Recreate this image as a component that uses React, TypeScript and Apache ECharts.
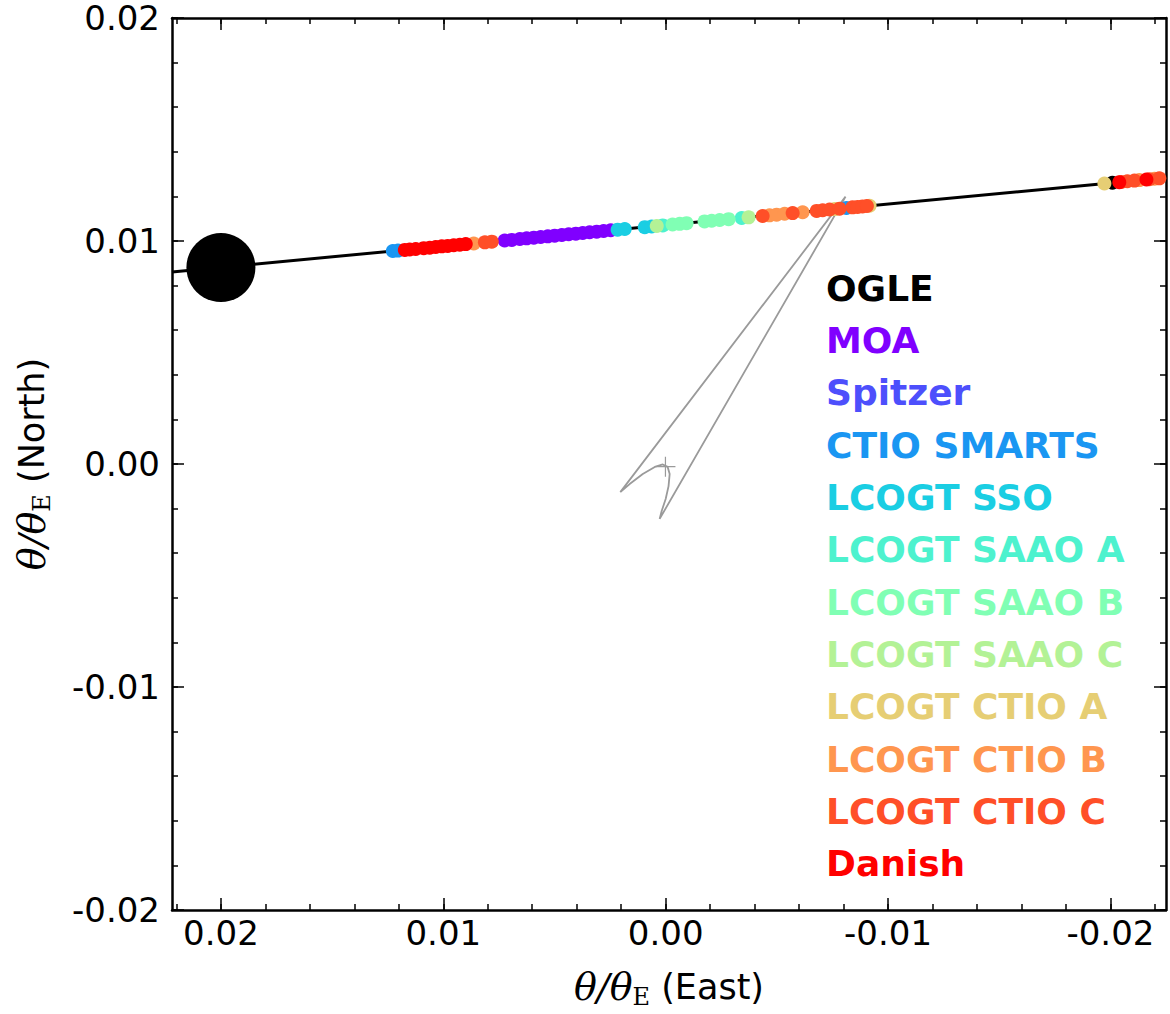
import React, { useEffect, useRef } from "react";
import * as echarts from "echarts";

// ---- data ----
const seriesNames = [
  "OGLE", "MOA", "Spitzer", "CTIO SMARTS", "LCOGT SSO", "LCOGT SAAO A",
  "LCOGT SAAO B", "LCOGT SAAO C", "LCOGT CTIO A", "LCOGT CTIO B", "LCOGT CTIO C", "Danish",
];
const seriesColors = [
  "#000000", "#8000ff", "#4d4ffc", "#1a96f2", "#1acee3", "#4df2ce",
  "#80ffb4", "#b3f296", "#e6ce74", "#ff964f", "#ff4f28", "#ff0000",
];

const ogle = [[-0.02009, 0.01261]];
const moa = [
  [0.00724, 0.01002], [0.00692, 0.01005], [0.00656, 0.01009], [0.00625, 0.01012],
  [0.00593, 0.01015], [0.00562, 0.01018], [0.0053, 0.01021], [0.00499, 0.01024],
  [0.00467, 0.01027], [0.00436, 0.0103], [0.00404, 0.01033], [0.00373, 0.01036],
  [0.00342, 0.01039], [0.0031, 0.01042], [0.00279, 0.01045], [0.00247, 0.01048],
];
const spitzer: number[][] = [];
const ctioSmarts = [[0.01227, 0.00955], [0.01204, 0.00957], [-0.00813, 0.01148]];
const lcogtSso = [[0.00216, 0.01051], [0.00184, 0.01054], [0.00094, 0.01062], [0.00063, 0.01065]];
const lcogtSaaoA = [[0.00013, 0.0107], [-0.00342, 0.01103]];
const lcogtSaaoB = [
  [-0.00031, 0.01074], [-0.00063, 0.01077], [-0.00094, 0.0108], [-0.00175, 0.01088],
  [-0.00207, 0.01091], [-0.00243, 0.01094], [-0.00283, 0.01098],
];
const lcogtSaaoC = [[0.0004, 0.01067], [-0.00373, 0.01106]];
const lcogtCtioA = [[-0.0076, 0.01143], [-0.00917, 0.01158], [-0.01973, 0.01258]];
const lcogtCtioB = [
  [0.00863, 0.00989], [-0.00467, 0.01115], [-0.00499, 0.01118], [-0.00535, 0.01122],
  [-0.00616, 0.01129], [-0.0213, 0.01273], [-0.02198, 0.01279],
];
const lcogtCtioC = [
  [0.00813, 0.00994], [0.00782, 0.00997], [-0.00436, 0.01112], [-0.00571, 0.01125],
  [-0.00679, 0.01135], [-0.00706, 0.01138], [-0.00737, 0.01141], [-0.00782, 0.01145],
  [-0.0084, 0.01151], [-0.00863, 0.01153], [-0.00885, 0.01155], [-0.00905, 0.01157],
  [-0.02049, 0.01265], [-0.02076, 0.01268], [-0.02108, 0.01271], [-0.02175, 0.01277],
  [-0.0222, 0.01281],
];
const danish = [
  [0.01173, 0.0096], [0.01151, 0.00962], [0.01124, 0.00964], [0.01088, 0.00968],
  [0.01061, 0.0097], [0.01034, 0.00973], [0.01007, 0.00976], [0.0098, 0.00978],
  [0.00953, 0.00981], [0.00926, 0.00983], [0.00899, 0.00986],
  [-0.0204, 0.01264], [-0.02162, 0.01276],
];
const seriesData = [
  ogle, moa, spitzer, ctioSmarts, lcogtSso, lcogtSaaoA,
  lcogtSaaoB, lcogtSaaoC, lcogtCtioA, lcogtCtioB, lcogtCtioC, danish,
];

const trajectory = [[0.0222, 0.00861], [-0.0225, 0.01284]];
const sourcePosition = [[0.02, 0.00881]];
const caustic = [
  [-0.00809, 0.01199], [0.00204, -0.00126], [0.00162, -0.0009], [0.00103, -0.00045],
  [0.00049, -0.00013], [0.00013, -0.00002], [-0.00009, -0.00013], [-0.00018, -0.00045],
  [-0.00013, -0.00099], [0.0, -0.00157], [0.00018, -0.00211], [0.00027, -0.00246],
  [-0.00809, 0.01199],
];
const lensPosition = [[0.00001, -0.00012]];

const majorTicks = [-0.02, -0.01, 0, 0.01, 0.02];
const minorTicksX = [
  -0.022, -0.02, -0.018, -0.016, -0.014, -0.012, -0.01, -0.008, -0.006, -0.004, -0.002,
  0, 0.002, 0.004, 0.006, 0.008, 0.01, 0.012, 0.014, 0.016, 0.018, 0.02, 0.022,
];
const minorTicksY = [
  -0.02, -0.018, -0.016, -0.014, -0.012, -0.01, -0.008, -0.006, -0.004, -0.002,
  0, 0.002, 0.004, 0.006, 0.008, 0.01, 0.012, 0.014, 0.016, 0.018, 0.02,
];

const FONT = '"DejaVu Sans", sans-serif';
const SERIF = '"DejaVu Serif", serif';

const nameRich = {
  m: { fontFamily: SERIF, fontStyle: "italic", fontSize: 38, lineHeight: 44, color: "#000", verticalAlign: "middle" },
  s: { fontFamily: SERIF, fontSize: 24, lineHeight: 24, color: "#000", verticalAlign: "bottom" },
  t: { fontFamily: FONT, fontSize: 35, lineHeight: 44, color: "#000", verticalAlign: "middle" },
};

function makeAxis(kind: "x" | "y", position: string, major: boolean, withLabels: boolean, extra: any = {}) {
  const range = kind === "x" ? { min: -0.0225, max: 0.0222, inverse: true } : { min: -0.02, max: 0.02 };
  const ticks = major ? majorTicks : kind === "x" ? minorTicksX : minorTicksY;
  const label: any = {
    show: true,
    customValues: majorTicks,
    formatter: (v: number) => v.toFixed(2),
    fontSize: 34,
    fontFamily: FONT,
    color: "#000",
    margin: kind === "x" ? 6 : 12,
  };
  if (kind === "y") label.lineHeight = 34;
  return {
    type: "value",
    position,
    ...range,
    splitLine: { show: false },
    axisLine: { show: major, onZero: false, lineStyle: { color: "#000", width: 2.5 } },
    axisTick: {
      show: true,
      inside: true,
      length: major ? 12 : 6,
      customValues: ticks,
      lineStyle: { color: "#000", width: 1.5 },
    },
    axisLabel: withLabels ? label : { show: false },
    ...extra,
  };
}

export default function App() {
  const ref = useRef<HTMLDivElement>(null);
  useEffect(() => {
    if (!ref.current) return;
    const chart = echarts.init(ref.current, null, { renderer: "svg" });

    const legendTexts = seriesNames.map((name, i) => ({
      type: "text",
      x: 826,
      y: 288 + i * 52.36,
      z: 100,
      style: {
        text: name,
        fill: seriesColors[i],
        fontSize: 36,
        fontWeight: "bold",
        fontFamily: FONT,
        verticalAlign: "middle",
        align: "left",
      },
    }));

    const scatterSeries = seriesNames.map((name, i) => ({
      type: "scatter",
      name,
      data: seriesData[i],
      symbol: "circle",
      symbolSize: 14,
      itemStyle: { color: seriesColors[i], opacity: 1 },
      z: 5,
      silent: true,
    }));

    chart.setOption({
      animation: false,
      backgroundColor: "#fff",
      grid: { left: 172, right: 4, top: 18, bottom: 104, outerBoundsMode: "none", containLabel: false },
      xAxis: [
        makeAxis("x", "bottom", true, true, {
          name: "{m|θ/θ}{s|E}{t| (East)}",
          nameLocation: "middle",
          nameGap: 55,
          nameTextStyle: { rich: nameRich },
        }),
        makeAxis("x", "bottom", false, false),
        makeAxis("x", "top", true, false),
        makeAxis("x", "top", false, false),
      ],
      yAxis: [
        makeAxis("y", "left", true, true, {
          name: "{m|θ/θ}{s|E}{t| (North)}",
          nameLocation: "middle",
          nameRotate: 90,
          nameGap: 118,
          nameTextStyle: { rich: nameRich },
        }),
        makeAxis("y", "left", false, false),
        makeAxis("y", "right", true, false),
        makeAxis("y", "right", false, false),
      ],
      series: [
        {
          type: "line",
          data: trajectory,
          symbol: "none",
          lineStyle: { color: "#000", width: 3 },
          z: 2,
          silent: true,
        },
        {
          type: "scatter",
          data: sourcePosition,
          symbol: "circle",
          symbolSize: 69,
          itemStyle: { color: "#000", opacity: 1 },
          z: 3,
          silent: true,
        },
        {
          type: "line",
          data: caustic,
          symbol: "none",
          lineStyle: { color: "#9a9a9a", width: 1.8 },
          z: 4,
          silent: true,
        },
        {
          type: "scatter",
          data: lensPosition,
          symbol: "path://M10 0 L10 20 M0 10 L20 10",
          symbolSize: 20,
          itemStyle: { color: "none", borderColor: "#9a9a9a", borderWidth: 1.2, opacity: 1 },
          z: 4,
          silent: true,
        },
        ...scatterSeries,
      ],
      graphic: legendTexts,
    });
    return () => chart.dispose();
  }, []);
  return (
    <div
      ref={ref}
      style={{ position: "absolute", left: 0, top: 0, width: 1170, height: 1014, background: "#fff" }}
    />
  );
}
